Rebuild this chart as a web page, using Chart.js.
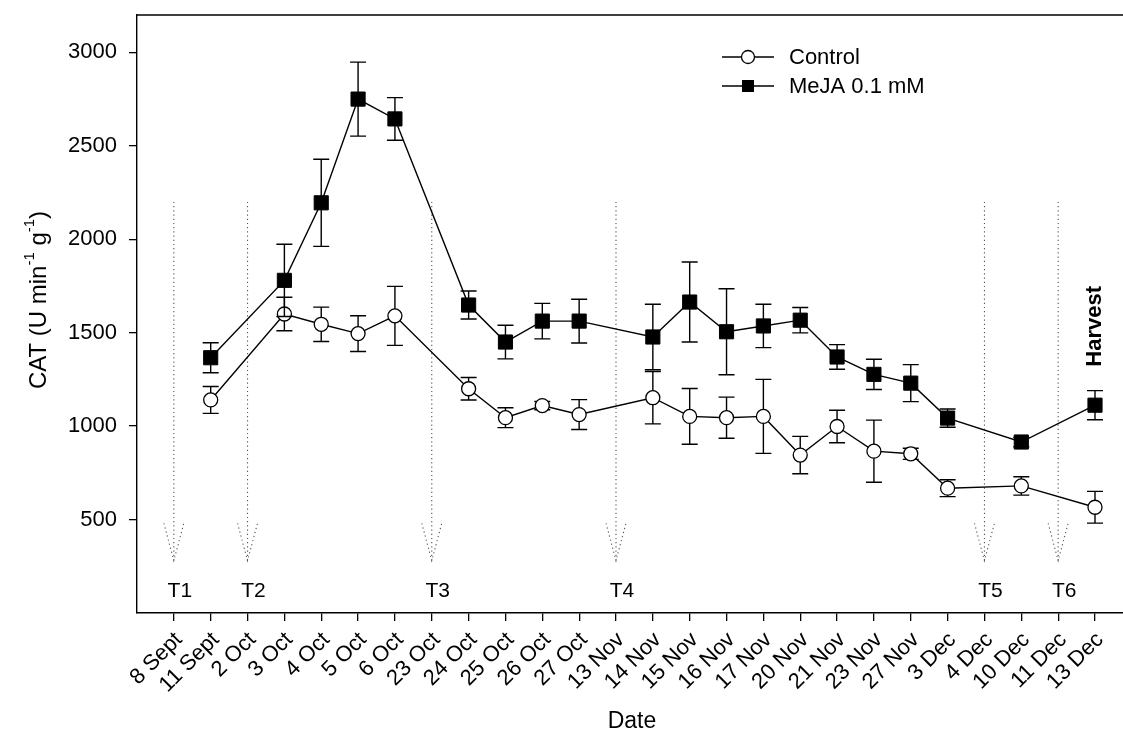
<!DOCTYPE html>
<html><head><meta charset="utf-8">
<script src="https://cdn.jsdelivr.net/npm/chart.js@4.4.1/dist/chart.umd.min.js"></script>
<style>html,body{margin:0;padding:0;background:#fff;}#wrap{width:1123px;height:737px;position:relative;}</style>
</head><body><div id="wrap"><canvas id="c"></canvas></div>
<script>
const categories = ['8 Sept','11 Sept','2 Oct','3 Oct','4 Oct','5 Oct','6 Oct','23 Oct','24 Oct','25 Oct','26 Oct','27 Oct','13 Nov','14 Nov','15 Nov','16 Nov','17 Nov','20 Nov','21 Nov','23 Nov','27 Nov','3 Dec','4 Dec','10 Dec','11 Dec','13 Dec'];
const controlMean = [null,1140,null,1600,1545,1495,1590,null,1200,1045,1110,1062,null,1152,1052,1045,1052,845,998,866,852,668,null,680,null,566];
const controlErr  = [null,72,null,90,92,96,158,null,60,53,22,80,null,140,149,110,198,100,87,166,30,45,null,49,null,85];
const mejaMean    = [null,1366,null,1780,2195,2750,2644,null,1648,1450,1562,1562,null,1477,1664,1505,1536,1567,1370,1277,1230,1043,null,915,null,1112];
const mejaErr     = [null,80,null,193,233,198,114,null,75,90,95,117,null,175,214,230,116,68,66,81,99,49,null,25,null,78];
const treatmentIdx = [0,2,7,12,22,24];
const treatmentLabels = ['T1','T2','T3','T4','T5','T6'];
const yTicks = [500,1000,1500,2000,2500,3000];
const seriesLabels = ['Control','MeJA 0.1 mM'];
const harvestLabel = 'Harvest';

const FONT = "'Liberation Sans', Arial, Helvetica, sans-serif";

function pts(means, errs){
  const out = [];
  means.forEach((v,i)=>{ if(v!==null) out.push({x:i,y:v,e:errs[i]}); });
  return out;
}

const datasets = [
  {label: seriesLabels[1], data: pts(mejaMean, mejaErr), borderColor:'#000', borderWidth:1.4,
   pointStyle:'rect', pointRadius:10, pointBackgroundColor:'#000', pointBorderColor:'#000', pointBorderWidth:1, hasErr:true},
  {label: seriesLabels[0], data: pts(controlMean, controlErr), borderColor:'#000', borderWidth:1.4,
   pointStyle:'circle', pointRadius:7, pointBackgroundColor:'#fff', pointBorderColor:'#000', pointBorderWidth:1.3, hasErr:true}
];
// treatment arrows (dotted)
const ARROW_TOP = 2200, ARROW_TIP = 280, HEAD_BASE = 480, HEAD_HALF = 0.27;
treatmentIdx.forEach(i=>{
  datasets.push({data:[{x:i,y:ARROW_TOP},{x:i,y:ARROW_TIP}], borderColor:'#555', borderWidth:1.1, borderDash:[1.2,3], pointRadius:0});
  datasets.push({data:[{x:i-HEAD_HALF,y:HEAD_BASE},{x:i,y:ARROW_TIP},{x:i+HEAD_HALF,y:HEAD_BASE}], borderColor:'#555', borderWidth:1.1, borderDash:[1.2,3], pointRadius:0});
});

const annot = {
  id:'annot',
  afterLayout(chart){
    // plot frame runs to the right edge of the picture (cut off)
    const ca = chart.chartArea, xs = chart.scales.x;
    ca.right = chart.width; ca.width = ca.right - ca.left;
    xs.right = chart.width; xs.width = xs.right - xs.left;
    xs.configure();
  },
  beforeDatasetDraw(chart,args){
    const ds = chart.data.datasets[args.index];
    if(!ds.hasErr) return;
    const ctx = chart.ctx, xs = chart.scales.x, ys = chart.scales.y;
    ctx.save(); ctx.strokeStyle='#000'; ctx.lineWidth=1.4;
    ds.data.forEach(p=>{
      if(!p.e) return;
      const x = xs.getPixelForValue(p.x), y1 = ys.getPixelForValue(p.y+p.e), y2 = ys.getPixelForValue(p.y-p.e);
      ctx.beginPath();
      ctx.moveTo(x,y1); ctx.lineTo(x,y2);
      ctx.moveTo(x-8,y1); ctx.lineTo(x+8,y1);
      ctx.moveTo(x-8,y2); ctx.lineTo(x+8,y2);
      ctx.stroke();
    });
    ctx.restore();
  },
  afterDraw(chart){
    const ctx = chart.ctx, xs = chart.scales.x, ys = chart.scales.y, ca = chart.chartArea;
    ctx.save();
    ctx.strokeStyle='#000'; ctx.lineWidth=1.4;
    ctx.beginPath(); ctx.moveTo(ca.left, ca.top); ctx.lineTo(chart.width, ca.top); ctx.stroke();
    ctx.fillStyle='#000';
    ctx.font = '21px '+FONT; ctx.textAlign='center'; ctx.textBaseline='middle';
    treatmentIdx.forEach((i,k)=>{
      ctx.fillText(treatmentLabels[k], xs.getPixelForValue(i)+6, ys.getPixelForValue(117));
    });
    ctx.save();
    ctx.translate(xs.getPixelForValue(25), ys.getPixelForValue(1534));
    ctx.rotate(-Math.PI/2);
    ctx.font = 'bold 22px '+FONT; ctx.textAlign='center'; ctx.textBaseline='middle';
    ctx.fillText(harvestLabel, 0, 0);
    ctx.restore();
    const order = [1,0];
    const rows = [57,86];
    order.forEach((di,r)=>{
      const ds = chart.data.datasets[di];
      const y = rows[r];
      ctx.strokeStyle='#000'; ctx.lineWidth=1.4;
      ctx.beginPath(); ctx.moveTo(722,y); ctx.lineTo(774,y); ctx.stroke();
      if(ds.pointStyle==='circle'){
        ctx.beginPath(); ctx.arc(748,y,6.5,0,Math.PI*2); ctx.fillStyle='#fff'; ctx.fill(); ctx.lineWidth=1.3; ctx.stroke();
      } else {
        ctx.fillStyle='#000'; ctx.fillRect(742,y-6,12,12);
      }
      ctx.fillStyle='#000'; ctx.font='22px '+FONT; ctx.textAlign='left'; ctx.textBaseline='middle';
      ctx.fillText(ds.label, 789, y+1);
    });
    ctx.font='23px '+FONT; ctx.textAlign='center'; ctx.textBaseline='middle';
    ctx.fillText('Date', 632, 722);
    ctx.save();
    ctx.translate(39, 300); ctx.rotate(-Math.PI/2);
    const parts = [['CAT (U min',24,0],['-1',15,-9],[' g',24,0],['-1',15,-9],[')',24,0]];
    let total = 0;
    parts.forEach(p=>{ ctx.font=p[1]+'px '+FONT; total += ctx.measureText(p[0]).width; });
    let cx = -total/2;
    ctx.textAlign='left'; ctx.textBaseline='middle';
    parts.forEach(p=>{ ctx.font=p[1]+'px '+FONT; ctx.fillText(p[0], cx, p[2]); cx += ctx.measureText(p[0]).width; });
    ctx.restore();
    ctx.restore();
  }
};

new Chart(document.getElementById('c'), {
  type:'line',
  data:{datasets},
  options:{
    responsive:true, maintainAspectRatio:false, animation:false,
    layout:{padding:{top:15,right:0,left:0,bottom:0}},
    plugins:{legend:{display:false}, tooltip:{enabled:false}},
    elements:{line:{tension:0}},
    scales:{
      x:{type:'linear', min:-1, max:25.76,
        afterBuildTicks(s){ s.ticks = categories.map((_,i)=>({value:i})); },
        afterFit(s){ s.height = 124; s.paddingLeft = 0; s.paddingRight = 0; },
        ticks:{autoSkip:false, maxRotation:45, minRotation:45, color:'#000', font:{size:22, family:FONT}, padding:6, labelOffset:5,
          callback:(v)=>categories[v]},
        grid:{drawOnChartArea:false, drawTicks:true, tickLength:8, color:'#000', lineWidth:1.3},
        border:{display:true, color:'#000', width:1.4}
      },
      y:{type:'linear', min:0, max:3200,
        afterBuildTicks(s){ s.ticks = yTicks.map(v=>({value:v})); },
        afterFit(s){ s.width = 137; s.paddingTop = 0; s.paddingBottom = 0; },
        ticks:{color:'#000', font:{size:22, family:FONT}, padding:12, callback:(v)=>String(v)},
        grid:{drawOnChartArea:false, drawTicks:true, tickLength:8, color:'#000', lineWidth:1.3},
        border:{display:true, color:'#000', width:1.4}
      }
    }
  },
  plugins:[annot]
});
</script></body></html>
